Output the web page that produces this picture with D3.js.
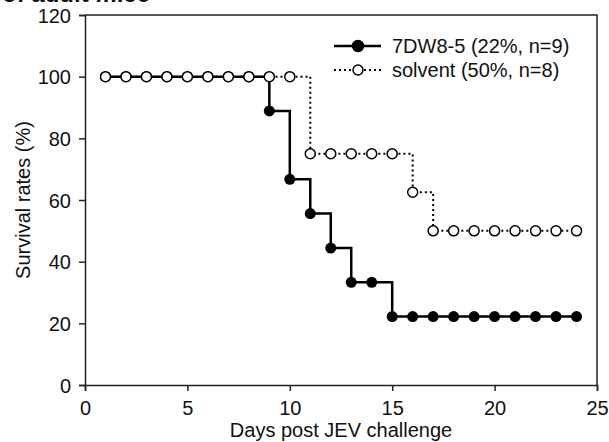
<!DOCTYPE html>
<html>
<head>
<meta charset="utf-8">
<script src="https://cdn.jsdelivr.net/npm/d3@7"></script>
<style>
  body { margin: 0; background: #fff; }
  text { font-family: "Liberation Sans", Arial, sans-serif; fill: #111; }
</style>
</head>
<body>
<div id="container"></div>
<script>
/* DATA */
const days7dw = [1, 2, 3, 4, 5, 6, 7, 8, 9, 10, 11, 12, 13, 14, 15, 16, 17, 18, 19, 20, 21, 22, 23, 24]
const surv7dw = [100, 100, 100, 100, 100, 100, 100, 100, 88.9, 66.7, 55.6, 44.4, 33.3, 33.3, 22.2, 22.2, 22.2, 22.2, 22.2, 22.2, 22.2, 22.2, 22.2, 22.2]
const daysSolvent = [1, 2, 3, 4, 5, 6, 7, 8, 9, 10, 11, 12, 13, 14, 15, 16, 17, 18, 19, 20, 21, 22, 23, 24]
const survSolvent = [100, 100, 100, 100, 100, 100, 100, 100, 100, 100, 75, 75, 75, 75, 75, 62.5, 50, 50, 50, 50, 50, 50, 50, 50]
const xTicks = [0, 5, 10, 15, 20, 25]
const yTicks = [0, 20, 40, 60, 80, 100, 120]
const legendLabels = ["7DW8-5 (22%, n=9)", "solvent (50%, n=8)"]

/* CONSTANTS */
const width = 609, height = 442
const margin = {top: 15, right: 12, bottom: 57, left: 85}
const fontSize = "20px"

const xScale = d3.scaleLinear().domain([0, 25]).range([margin.left, width - margin.right])
const yScale = d3.scaleLinear().domain([0, 120]).range([height - margin.bottom, margin.top])

const svg = d3.select("#container").append("svg")
  .attr("width", width)
  .attr("height", height)

// title, cut off at the top edge as in the source figure
svg.append("text")
  .attr("x", 2).attr("y", 2)
  .style("font-size", "24px").style("font-weight", "bold")
  .text("of adult mice")

// frame (top + right)
svg.append("path")
  .attr("d", `M${xScale(0)},${yScale(120)}H${xScale(25)}V${yScale(0)}`)
  .attr("fill", "none").attr("stroke", "#222").attr("stroke-width", 1.5)

// AXES
const xAxis = d3.axisBottom(xScale).tickValues(xTicks).tickSizeOuter(0).tickSize(6).tickPadding(10)
const gx = svg.append("g")
  .attr("transform", `translate(0,${yScale(0)})`)
  .call(xAxis)
const yAxis = d3.axisLeft(yScale).tickValues(yTicks).tickSizeOuter(0).tickSize(6).tickPadding(8)
const gy = svg.append("g")
  .attr("transform", `translate(${xScale(0)},0)`)
  .call(yAxis)

;[gx, gy].forEach(g => {
  g.select(".domain").attr("stroke", "#222").attr("stroke-width", 1.5)
  g.selectAll(".tick line").attr("stroke", "#222").attr("stroke-width", 1.5)
  g.selectAll(".tick text").style("font-size", fontSize).style("font-family", "Liberation Sans, Arial, sans-serif").attr("fill", "#111")
})
gy.selectAll(".tick text").attr("dy", "0.36em")

// axis labels
svg.append("text")
  .attr("x", (xScale(0) + xScale(25)) / 2).attr("y", 437)
  .style("text-anchor", "middle").style("font-size", fontSize)
  .text("Days post JEV challenge")
svg.append("text")
  .attr("transform", `translate(30,${(yScale(0) + yScale(120)) / 2}) rotate(-90)`)
  .style("text-anchor", "middle").style("font-size", fontSize)
  .text("Survival rates (%)")

// LINES
const d7 = days7dw.map((d, i) => ({day: d, v: surv7dw[i]}))
const dS = daysSolvent.map((d, i) => ({day: d, v: survSolvent[i]}))

const lineGen = d3.line()
  .x(d => xScale(d.day))
  .y(d => yScale(d.v))
  .curve(d3.curveStepAfter)

svg.append("path")
  .datum(d7)
  .attr("d", lineGen)
  .attr("fill", "none").attr("stroke", "#000").attr("stroke-width", 2.5)

svg.append("path")
  .datum(dS)
  .attr("d", lineGen)
  .attr("fill", "none").attr("stroke", "#000").attr("stroke-width", 2)
  .attr("stroke-dasharray", "2,3")

svg.selectAll("circle.s7")
  .data(d7)
  .join("circle")
  .attr("class", "s7")
  .attr("cx", d => xScale(d.day)).attr("cy", d => yScale(d.v))
  .attr("r", 5.5).attr("fill", "#000")

svg.selectAll("circle.sS")
  .data(dS)
  .join("circle")
  .attr("class", "sS")
  .attr("cx", d => xScale(d.day)).attr("cy", d => yScale(d.v))
  .attr("r", 5).attr("fill", "#fff").attr("stroke", "#000").attr("stroke-width", 1.5)

// LEGEND
const legend = svg.append("g").attr("transform", "translate(334,46)")
legendLabels.forEach((lab, i) => {
  const g = legend.append("g").attr("transform", `translate(0,${i * 24})`)
  g.append("line").attr("x1", 0).attr("x2", 47).attr("y1", 0).attr("y2", 0)
    .attr("stroke", "#000").attr("stroke-width", i === 0 ? 2.5 : 2)
    .attr("stroke-dasharray", i === 0 ? null : "2,3")
  g.append("circle").attr("cx", 24).attr("cy", 0).attr("r", i === 0 ? 5.5 : 5)
    .attr("fill", i === 0 ? "#000" : "#fff").attr("stroke", "#000").attr("stroke-width", 1.5)
  g.append("text").attr("x", 58).attr("y", 0).attr("dy", "0.36em")
    .style("font-size", fontSize).text(lab)
})
</script>
</body>
</html>
